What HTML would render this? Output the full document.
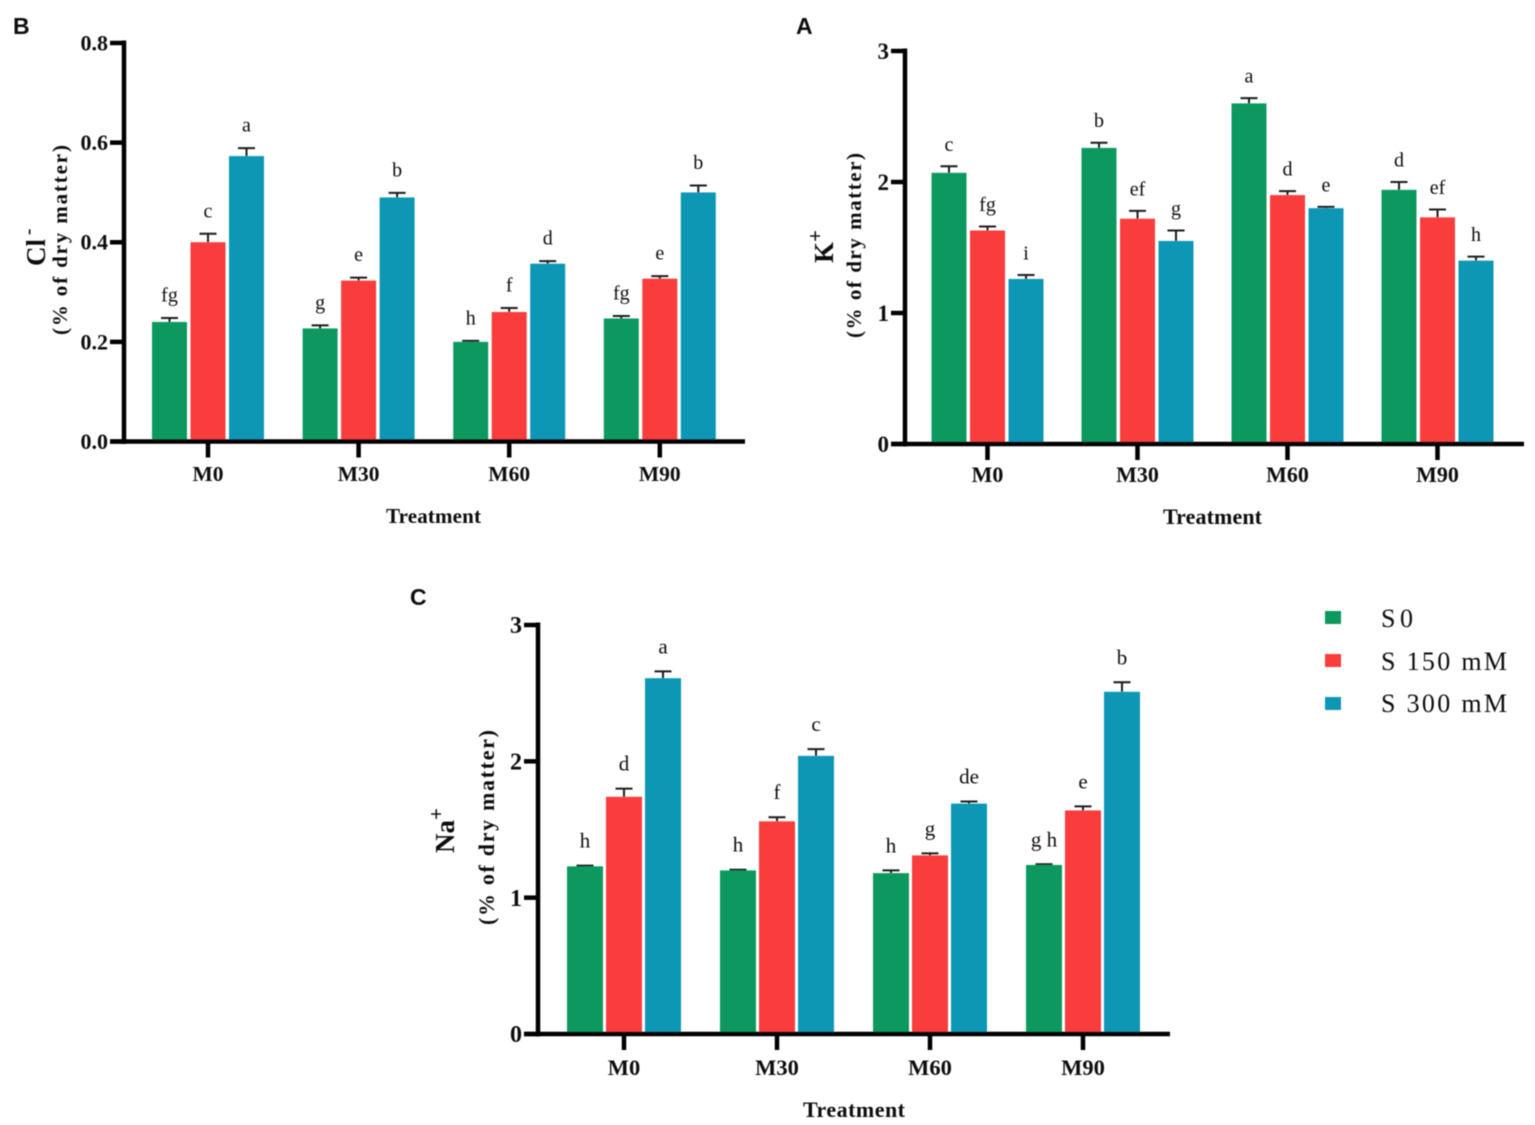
<!DOCTYPE html>
<html>
<head>
<meta charset="utf-8">
<title>Ion content by treatment</title>
<style>
html,body{margin:0;padding:0;background:#fff;width:1535px;height:1125px;overflow:hidden}
svg{display:block}
text{font-family:"Liberation Serif",serif;fill:#111}
.t{font-weight:bold}
</style>
</head>
<body>
<svg id="fig" width="1535" height="1125" viewBox="0 0 1535 1125" xmlns="http://www.w3.org/2000/svg">
  <defs><filter id="soft" x="-2%" y="-2%" width="104%" height="104%"><feGaussianBlur stdDeviation="0.45"/></filter></defs>
  <g id="root" filter="url(#soft)">
    <text x="13" y="34" style="font-family:'Liberation Sans',sans-serif;font-weight:bold;font-size:23px">B</text>
    <text x="796" y="34" style="font-family:'Liberation Sans',sans-serif;font-weight:bold;font-size:23px">A</text>
    <text x="410" y="605" style="font-family:'Liberation Sans',sans-serif;font-weight:bold;font-size:23px">C</text>

    <text class="t" transform="translate(45,266) rotate(-90)" font-size="27">Cl<tspan dy="-11" font-size="19" dx="4">-</tspan></text>
    <text class="t" transform="translate(67,335) rotate(-90)" font-size="21" textLength="190" lengthAdjust="spacing">(% of dry matter)</text>
    <text class="t" x="386" y="523" font-size="21" textLength="95" lengthAdjust="spacing">Treatment</text>

    <text class="t" transform="translate(833,263) rotate(-90)" font-size="27">K<tspan dy="-11" font-size="21">+</tspan></text>
    <text class="t" transform="translate(861,338) rotate(-90)" font-size="21" textLength="185" lengthAdjust="spacing">(% of dry matter)</text>
    <text class="t" x="1163" y="524" font-size="22" textLength="99" lengthAdjust="spacing">Treatment</text>

    <text class="t" transform="translate(454,853) rotate(-90)" font-size="27">Na<tspan dy="-11" font-size="21">+</tspan></text>
    <text class="t" transform="translate(494,925) rotate(-90)" font-size="22" textLength="195" lengthAdjust="spacing">(% of dry matter)</text>
    <text class="t" x="803" y="1117" font-size="22" textLength="102" lengthAdjust="spacing">Treatment</text>

    <g>
      <rect x="1325" y="611" width="16" height="13" fill="#0c9861"/>
      <text x="1381" y="627" font-size="26" textLength="32" lengthAdjust="spacing">S0</text>
      <rect x="1325" y="654" width="16" height="13" fill="#f93d3d"/>
      <text x="1381" y="670" font-size="26" textLength="126" lengthAdjust="spacing">S 150 mM</text>
      <rect x="1325" y="697" width="16" height="13" fill="#1197b5"/>
      <text x="1381" y="712" font-size="26" textLength="126" lengthAdjust="spacing">S 300 mM</text>
    </g>
  </g>
</svg>
<script>
const categories = ['M0', 'M30', 'M60', 'M90'];
const seriesKeys = ['s0', 's150', 's300'];

const clTicks = ['0.0', '0.2', '0.4', '0.6', '0.8'];
const clS0 = [0.24, 0.227, 0.2, 0.247];
const clS150 = [0.4, 0.323, 0.26, 0.327];
const clS300 = [0.573, 0.49, 0.357, 0.5];
const clErrS0 = [0.008, 0.006, 0.002, 0.005];
const clErrS150 = [0.017, 0.006, 0.008, 0.005];
const clErrS300 = [0.016, 0.009, 0.005, 0.014];
const clLetS0 = ['fg', 'g', 'h', 'fg'];
const clLetS150 = ['c', 'e', 'f', 'e'];
const clLetS300 = ['a', 'b', 'd', 'b'];

const kTicks = ['0', '1', '2', '3'];
const kS0 = [2.07, 2.26, 2.6, 1.94];
const kS150 = [1.63, 1.72, 1.9, 1.73];
const kS300 = [1.26, 1.55, 1.8, 1.4];
const kErrS0 = [0.05, 0.04, 0.04, 0.06];
const kErrS150 = [0.03, 0.06, 0.03, 0.06];
const kErrS300 = [0.03, 0.08, 0.01, 0.03];
const kLetS0 = ['c', 'b', 'a', 'd'];
const kLetS150 = ['fg', 'ef', 'd', 'ef'];
const kLetS300 = ['i', 'g', 'e', 'h'];

const naTicks = ['0', '1', '2', '3'];
const naS0 = [1.23, 1.2, 1.18, 1.24];
const naS150 = [1.74, 1.56, 1.31, 1.64];
const naS300 = [2.61, 2.04, 1.69, 2.51];
const naErrS0 = [0.005, 0.005, 0.02, 0.005];
const naErrS150 = [0.06, 0.03, 0.015, 0.03];
const naErrS300 = [0.05, 0.05, 0.015, 0.07];
const naLetS0 = ['h', 'h', 'h', 'g h'];
const naLetS150 = ['d', 'f', 'g', 'e'];
const naLetS300 = ['a', 'c', 'de', 'b'];

const seriesColors = ['#0c9861', '#f93d3d', '#1197b5'];

const NS = 'http://www.w3.org/2000/svg';
const root = document.getElementById('root');

function mk(tag, attrs, parent) {
  const el = document.createElementNS(NS, tag);
  for (const k in attrs) el.setAttribute(k, attrs[k]);
  parent.appendChild(el);
  return el;
}

function drawPanel(p) {
  const g = mk('g', {}, root);
  
  

  const yMax = parseFloat(p.ticks[p.ticks.length - 1]);
  const yScale = v => p.y0 - (v / yMax) * (p.y0 - p.y1);
  const xBand = i => p.xFirst + i * p.xStep;

  p.series.forEach((vals, s) => {
    vals.forEach((v, i) => {
      const cx = xBand(i) + (s - 1) * p.barStep;
      const top = yScale(v);
      const errTop = yScale(v + p.errs[s][i]);

      const stem = mk('line', { x1: cx, x2: cx, y1: top, y2: errTop, stroke: '#1a1a1a', 'stroke-width': 2 }, g);
      
      

      const cap = mk('line', { x1: cx - 8.5, x2: cx + 8.5, y1: errTop, y2: errTop, stroke: '#1a1a1a', 'stroke-width': 2 }, g);
      
      

      const bar = mk('rect', { x: cx - p.barW / 2, y: top, width: p.barW, height: p.y0 - top, fill: seriesColors[s] }, g);
      
      

      const letter = mk('text', { x: cx, y: errTop - p.letterGap, 'text-anchor': 'middle', 'font-size': p.letterSize }, g);
      letter.textContent = p.letters[s][i];
      
      
    });
  });

  const yAxis = mk('line', { x1: p.xAxis, x2: p.xAxis, y1: p.y1 - 2.5, y2: p.y0 + 2.5, stroke: '#000', 'stroke-width': 4.5 }, g);
  
  

  const xAxis = mk('line', { x1: p.xAxis - p.tickLen, x2: p.xEnd, y1: p.y0, y2: p.y0, stroke: '#000', 'stroke-width': 4.5 }, g);
  
  

  p.ticks.forEach(t => {
    const y = yScale(parseFloat(t));
    const tick = mk('line', { x1: p.xAxis - p.tickLen, x2: p.xAxis, y1: y, y2: y, stroke: '#000', 'stroke-width': 4.5 }, g);
    
    

    const lab = mk('text', { x: p.xAxis - p.tickLen - 2, y: y + p.tickSize * 0.34, 'text-anchor': 'end', 'font-size': p.tickSize, 'font-weight': 'bold' }, g);
    lab.textContent = t;
    
    
  });

  categories.forEach((c, i) => {
    const x = xBand(i);
    const tick = mk('line', { x1: x, x2: x, y1: p.y0, y2: p.y0 + p.tickLen + 2, stroke: '#000', 'stroke-width': 4.5 }, g);
    
    

    const lab = mk('text', { x: x, y: p.catY, 'text-anchor': 'middle', 'font-size': p.catSize, 'font-weight': 'bold' }, g);
    lab.textContent = c;
    
    
  });
}

drawPanel({
  id: 'b', ticks: clTicks,
  series: [clS0, clS150, clS300], errs: [clErrS0, clErrS150, clErrS300], letters: [clLetS0, clLetS150, clLetS300],
  xAxis: 124, xEnd: 745, y0: 441.5, y1: 43, xFirst: 208, xStep: 150.6, barStep: 38.5, barW: 35,
  tickLen: 14, tickSize: 22, catSize: 21.5, catY: 481, letterGap: 16.5, letterSize: 20
});
drawPanel({
  id: 'a', ticks: kTicks,
  series: [kS0, kS150, kS300], errs: [kErrS0, kErrS150, kErrS300], letters: [kLetS0, kLetS150, kLetS300],
  xAxis: 905, xEnd: 1524, y0: 444, y1: 51, xFirst: 987.5, xStep: 150, barStep: 38.5, barW: 35,
  tickLen: 14, tickSize: 23, catSize: 22, catY: 482, letterGap: 15.5, letterSize: 20
});
drawPanel({
  id: 'c', ticks: naTicks,
  series: [naS0, naS150, naS300], errs: [naErrS0, naErrS150, naErrS300], letters: [naLetS0, naLetS150, naLetS300],
  xAxis: 538, xEnd: 1170, y0: 1034, y1: 625, xFirst: 624, xStep: 153, barStep: 39, barW: 36,
  tickLen: 14, tickSize: 24, catSize: 22.5, catY: 1075, letterGap: 18, letterSize: 21
});
</script>
</body>
</html>
